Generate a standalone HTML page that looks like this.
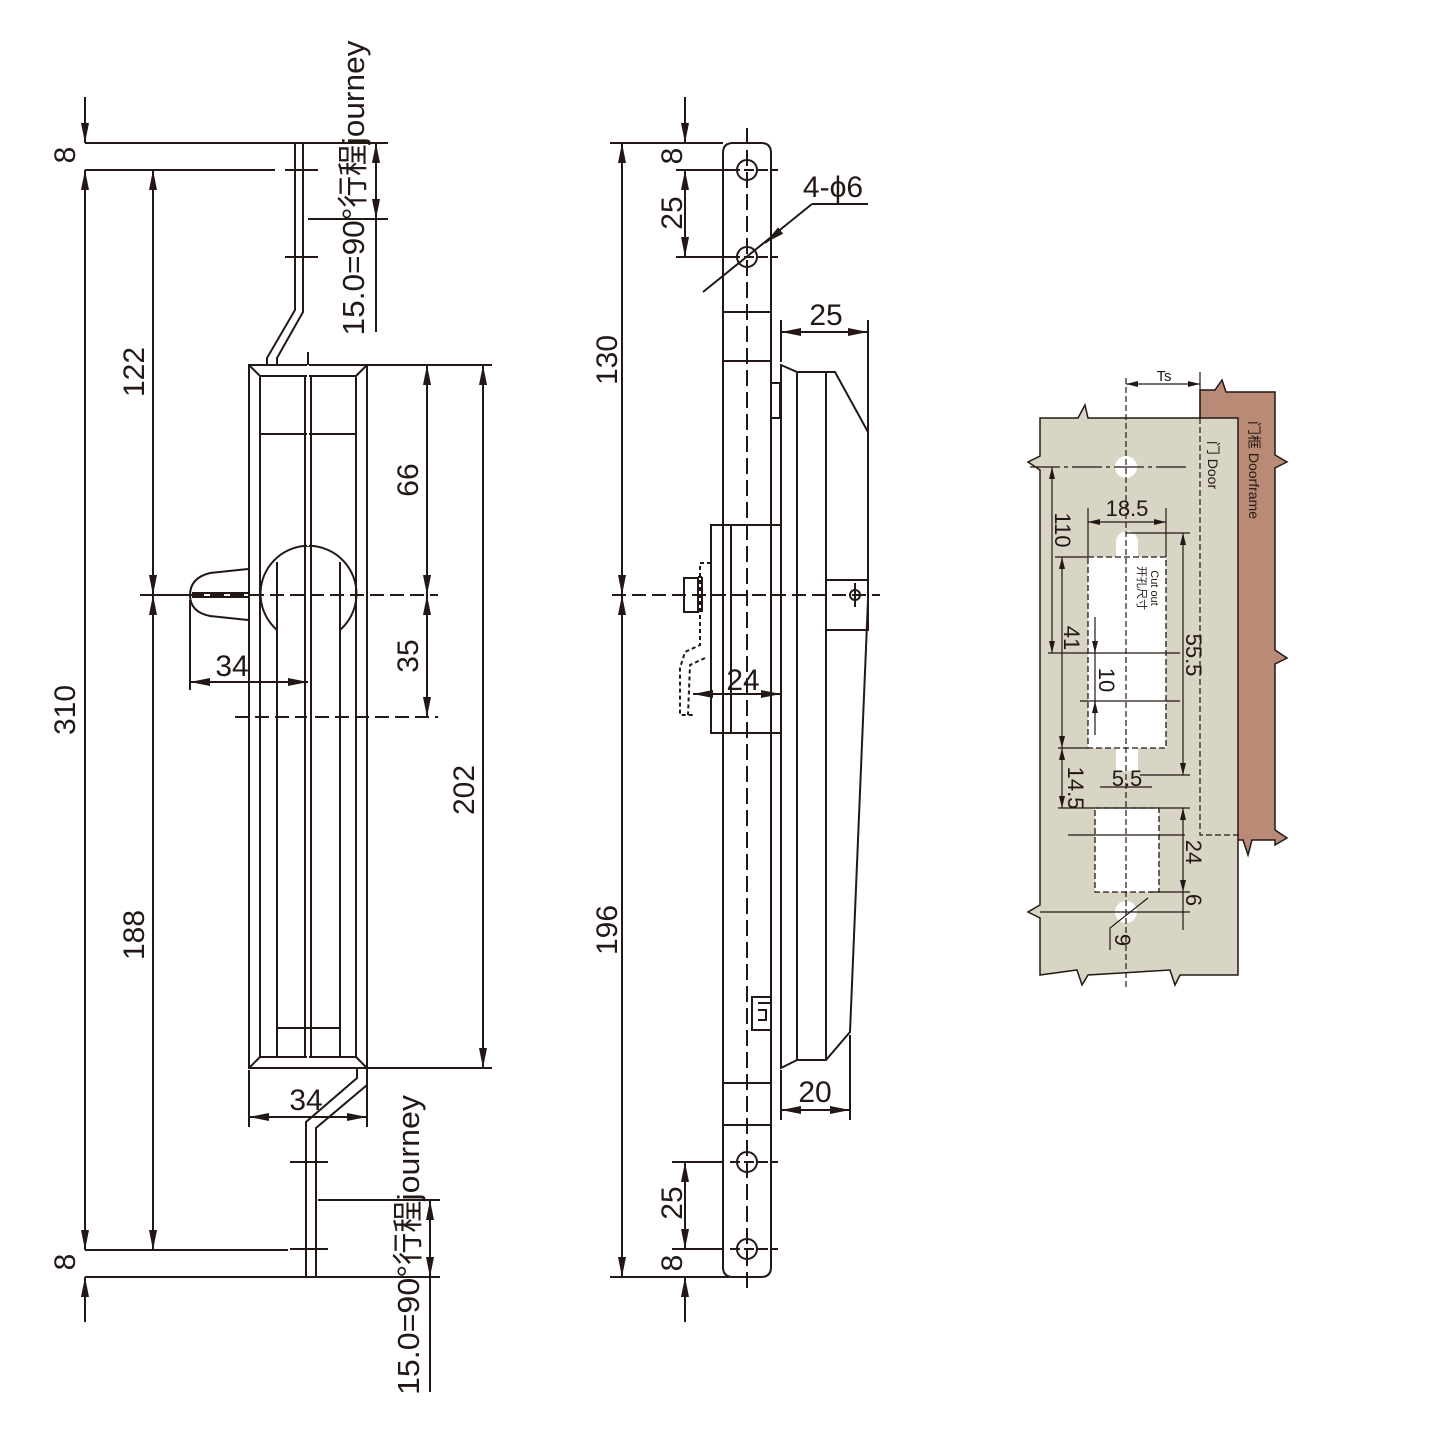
<!DOCTYPE html>
<html><head><meta charset="utf-8"><style>
html,body{margin:0;padding:0;background:#fff}
svg{display:block}
text{font-family:"Liberation Sans","Noto Sans CJK SC",sans-serif;fill:#231815}
</style></head><body>
<svg width="1440" height="1440" viewBox="0 0 1440 1440" xmlns="http://www.w3.org/2000/svg">
<defs>
<marker id="a" viewBox="0 0 20 8" refX="20" refY="4" markerWidth="20" markerHeight="8" markerUnits="userSpaceOnUse" orient="auto-start-reverse"><path d="M0,0 L20,4 L0,8 Z" fill="#231815"/></marker>
<marker id="s" viewBox="0 0 12 6" refX="12" refY="3" markerWidth="12" markerHeight="6" markerUnits="userSpaceOnUse" orient="auto-start-reverse"><path d="M0,0 L12,3 L0,6 Z" fill="#231815"/></marker>
</defs>
<g stroke="#231815" stroke-width="2" fill="none">
<line x1="85" y1="143" x2="295" y2="143"/>
<line x1="85" y1="170" x2="275" y2="170"/>
<line x1="85" y1="1250" x2="288" y2="1250"/>
<line x1="85" y1="1277" x2="440" y2="1277"/>
<line x1="140" y1="595" x2="190" y2="595"/>
<line x1="190" y1="595" x2="438" y2="595" stroke-dasharray="14,6"/>
<line x1="368" y1="365" x2="492" y2="365"/>
<line x1="368" y1="1068" x2="492" y2="1068"/>
<line x1="235" y1="717" x2="438" y2="717" stroke-dasharray="14,6"/>
<line x1="85" y1="97" x2="85" y2="143" marker-end="url(#a)"/>
<line x1="85" y1="170" x2="85" y2="1250" marker-start="url(#a)" marker-end="url(#a)"/>
<line x1="85" y1="1277" x2="85" y2="1322" marker-start="url(#a)"/>
<line x1="153" y1="170" x2="153" y2="595" marker-start="url(#a)" marker-end="url(#a)"/>
<line x1="153" y1="595" x2="153" y2="1250" marker-start="url(#a)" marker-end="url(#a)"/>
<line x1="427" y1="365" x2="427" y2="595" marker-start="url(#a)" marker-end="url(#a)"/>
<line x1="427" y1="595" x2="427" y2="717" marker-start="url(#a)" marker-end="url(#a)"/>
<line x1="483" y1="365" x2="483" y2="1068" marker-start="url(#a)" marker-end="url(#a)"/>
<rect x="249" y="365" width="118" height="703"/>
<rect x="260" y="376" width="96" height="681"/>
<line x1="249" y1="365" x2="260" y2="376"/><line x1="367" y1="365" x2="356" y2="376"/>
<line x1="249" y1="1068" x2="260" y2="1057"/><line x1="367" y1="1068" x2="356" y2="1057"/>
<line x1="260" y1="434" x2="356" y2="434"/>
<path d="M277,630 A48,48 0 1,1 340,630"/>
<line x1="277" y1="562" x2="277" y2="1057"/>
<line x1="340" y1="562" x2="340" y2="1057"/>
<line x1="277" y1="1028" x2="340" y2="1028"/>
<line x1="305" y1="376" x2="305" y2="1057"/>
<line x1="311" y1="376" x2="311" y2="1057"/>
<line x1="308" y1="352" x2="308" y2="1080" stroke="#fff" stroke-dasharray="14,6" stroke-width="2"/>
<line x1="308" y1="352" x2="308" y2="365" />
<path d="M248,569 L210,573 Q190,578 190,595 Q190,612 210,616 L248,620"/>
<line x1="192" y1="593" x2="248" y2="593"/><line x1="192" y1="597" x2="248" y2="597"/>
<line x1="190" y1="600" x2="190" y2="690"/>
<line x1="190" y1="682" x2="308" y2="682" marker-start="url(#a)" marker-end="url(#a)"/>
<line x1="249" y1="1070" x2="249" y2="1127"/><line x1="367" y1="1070" x2="367" y2="1127"/>
<line x1="249" y1="1117" x2="367" y2="1117" marker-start="url(#a)" marker-end="url(#a)"/>
<path d="M267,365 L267,358 L295,310 L295,143 L303,143 L303,312 L277,358 L277,365"/>
<line x1="285" y1="170" x2="318" y2="170"/>
<line x1="285" y1="257" x2="318" y2="257"/>
<path d="M357,1068 L357,1078 L306,1122 L306,1277 L316,1277 L316,1128 L367,1085 L367,1068"/>
<line x1="290" y1="1162" x2="328" y2="1162"/>
<line x1="290" y1="1249" x2="328" y2="1249"/>
<line x1="303" y1="143" x2="388" y2="143"/>
<line x1="308" y1="219" x2="388" y2="219"/>
<line x1="376" y1="143" x2="376" y2="219" marker-start="url(#a)" marker-end="url(#a)"/>
<line x1="376" y1="219" x2="376" y2="332"/>
<line x1="318" y1="1200" x2="440" y2="1200"/>
<line x1="430" y1="1200" x2="430" y2="1277" marker-start="url(#a)" marker-end="url(#a)"/>
<line x1="430" y1="1277" x2="430" y2="1392"/>

<path d="M733,143 L761,143 Q771,143 771,153 L771,1267 Q771,1277 761,1277 L733,1277 Q723,1277 723,1267 L723,153 Q723,143 733,143 Z"/>
<line x1="747" y1="128" x2="747" y2="1292" stroke-dasharray="16,6"/>
<circle cx="747" cy="170" r="10"/><circle cx="747" cy="257" r="10"/>
<circle cx="747" cy="1162" r="10"/><circle cx="747" cy="1249" r="10"/>
<line x1="730" y1="170" x2="778" y2="170" stroke-dasharray="10,4"/>
<line x1="730" y1="257" x2="778" y2="257" stroke-dasharray="10,4"/>
<line x1="730" y1="1162" x2="778" y2="1162" stroke-dasharray="10,4"/>
<line x1="730" y1="1249" x2="778" y2="1249" stroke-dasharray="10,4"/>
<line x1="723" y1="312" x2="771" y2="312"/><line x1="723" y1="361" x2="771" y2="361"/>
<line x1="723" y1="1083" x2="771" y2="1083"/><line x1="723" y1="1125" x2="771" y2="1125"/>
<path d="M781,365 L797,372 L835,372 L868,432 L868,600 L850,1032 L826,1060 L797,1060 L781,1068 Z"/>
<line x1="781" y1="365" x2="781" y2="1068"/>
<line x1="797" y1="372" x2="797" y2="1060"/>
<line x1="826" y1="372" x2="826" y2="1060"/>
<rect x="826" y="580" width="42" height="50"/>
<circle cx="855" cy="595" r="5"/><line x1="855" y1="583" x2="855" y2="607"/>
<rect x="771" y="383" width="9" height="35"/>
<rect x="752" y="997" width="19" height="33"/>
<path d="M758,1003 L771,1003 M758,1010 L766,1010 L766,1020 L758,1020"/>
<rect x="711" y="525" width="70" height="208"/>
<line x1="731" y1="525" x2="731" y2="733"/>
<rect x="684" y="578" width="14" height="34"/>
<line x1="698" y1="577" x2="702" y2="577"/><line x1="702" y1="577" x2="702" y2="612"/>
<path d="M711,563 L700,563 L700,645 L685,652 L680,668 L680,715 L693,715" stroke-dasharray="4,3"/>
<path d="M705,658 L690,665 L688,715" stroke-dasharray="4,3"/>
<line x1="610" y1="143" x2="723" y2="143"/>
<line x1="610" y1="1277" x2="730" y2="1277"/>
<line x1="612" y1="595" x2="880" y2="595" stroke-dasharray="14,6"/>
<line x1="622" y1="143" x2="622" y2="595" marker-start="url(#a)" marker-end="url(#a)"/>
<line x1="622" y1="595" x2="622" y2="1277" marker-start="url(#a)" marker-end="url(#a)"/>
<line x1="676" y1="170" x2="730" y2="170"/><line x1="676" y1="257" x2="730" y2="257"/>
<line x1="685" y1="97" x2="685" y2="143" marker-end="url(#a)"/>
<line x1="685" y1="170" x2="685" y2="257" marker-start="url(#a)" marker-end="url(#a)"/>
<line x1="672" y1="1162" x2="723" y2="1162"/><line x1="672" y1="1249" x2="723" y2="1249"/>
<line x1="685" y1="1162" x2="685" y2="1249" marker-start="url(#a)" marker-end="url(#a)"/>
<line x1="685" y1="1277" x2="685" y2="1322" marker-start="url(#a)"/>
<line x1="703" y1="292" x2="812" y2="204"/>
<line x1="780" y1="231" x2="765" y2="243" marker-end="url(#a)"/>
<line x1="812" y1="204" x2="868" y2="204"/>
<line x1="781" y1="320" x2="781" y2="362"/><line x1="868" y1="320" x2="868" y2="432"/>
<line x1="781" y1="332" x2="868" y2="332" marker-start="url(#a)" marker-end="url(#a)"/>
<line x1="693" y1="694" x2="781" y2="694" marker-start="url(#a)" marker-end="url(#a)"/>
<line x1="781" y1="1070" x2="781" y2="1120"/><line x1="850" y1="1035" x2="850" y2="1120"/>
<line x1="781" y1="1110" x2="850" y2="1110" marker-start="url(#a)" marker-end="url(#a)"/>
</g>

<g font-size="30" text-anchor="middle">
<text transform="translate(75,155) rotate(-90)">8</text>
<text transform="translate(75,710) rotate(-90)">310</text>
<text transform="translate(75,1262) rotate(-90)">8</text>
<text transform="translate(144,372) rotate(-90)">122</text>
<text transform="translate(144,935) rotate(-90)">188</text>
<text transform="translate(418,480) rotate(-90)">66</text>
<text transform="translate(418,656) rotate(-90)">35</text>
<text transform="translate(474,790) rotate(-90)">202</text>
<text x="232" y="676">34</text>
<text x="306" y="1110">34</text>
<text transform="translate(364,188) rotate(-90)" font-size="31" textLength="295" lengthAdjust="spacingAndGlyphs">15.0=90°行程journey</text>
<text transform="translate(419,1245) rotate(-90)" font-size="31" textLength="300" lengthAdjust="spacingAndGlyphs">15.0=90°行程journey</text>
<text transform="translate(617,360) rotate(-90)">130</text>
<text transform="translate(617,930) rotate(-90)">196</text>
<text transform="translate(682,156) rotate(-90)">8</text>
<text transform="translate(682,213) rotate(-90)">25</text>
<text transform="translate(682,1203) rotate(-90)">25</text>
<text transform="translate(682,1263) rotate(-90)">8</text>
<text x="833" y="197">4-ϕ6</text>
<text x="826" y="325">25</text>
<text x="743" y="690">24</text>
<text x="815" y="1102">20</text>
</g>

<path d="M1200,390 L1215,390 L1222,380 L1226,392 L1275,392 L1275,455 L1287,462 L1275,468 L1275,650 L1287,658 L1275,664 L1275,830 L1287,838 L1275,845 L1275,840 L1252,840 L1248,855 L1243,840 L1200,840 Z" fill="#b98b77" stroke="#231815" stroke-width="1.5"/>
<path d="M1040,418 L1078,418 L1085,405 L1088,418 L1238,418 L1238,975 L1180,975 L1175,985 L1170,970 L1088,975 L1082,985 L1077,970 L1040,975 L1040,918 L1028,912 L1040,905 L1040,470 L1028,462 L1040,456 Z" fill="#d8d5c4" stroke="#231815" stroke-width="1.5"/>
<g fill="#fff">
<path d="M1116,557 L1116,542 A11,11 0 0,1 1138,542 L1138,557 Z"/>
<rect x="1116" y="745" width="22" height="26"/>
<circle cx="1126" cy="467" r="11"/>
<circle cx="1126" cy="912" r="11"/>
</g>
<g fill="#fff" stroke="#231815" stroke-width="1.3" stroke-dasharray="6,3">
<rect x="1088" y="557" width="78" height="191"/>
<rect x="1095" y="808" width="64" height="84"/>
</g>
<g stroke="#231815" stroke-width="1.2" fill="none">
<line x1="1126" y1="378" x2="1126" y2="988" stroke-dasharray="6,3"/>
<path d="M1200,418 L1200,835 L1240,835" stroke-dasharray="6,3"/>
<line x1="1200" y1="372" x2="1200" y2="418"/>
<line x1="1126" y1="384" x2="1200" y2="384" marker-start="url(#s)" marker-end="url(#s)"/>
<line x1="1030" y1="467" x2="1190" y2="467" stroke-dasharray="30,4,4,4"/>
<line x1="1048" y1="653" x2="1180" y2="653"/>
<line x1="1080" y1="701" x2="1180" y2="701"/>
<line x1="1052" y1="467" x2="1052" y2="653" marker-start="url(#s)" marker-end="url(#s)"/>
<line x1="1055" y1="557" x2="1088" y2="557"/>
<line x1="1062" y1="557" x2="1062" y2="748" marker-start="url(#s)" marker-end="url(#s)"/>
<line x1="1058" y1="748" x2="1088" y2="748"/>
<line x1="1095" y1="617" x2="1095" y2="735"/>
<line x1="1095" y1="640" x2="1095" y2="653" marker-end="url(#s)"/>
<line x1="1095" y1="715" x2="1095" y2="701" marker-end="url(#s)"/>
<line x1="1088" y1="508" x2="1088" y2="557"/><line x1="1166" y1="508" x2="1166" y2="557"/>
<line x1="1088" y1="522" x2="1166" y2="522" marker-start="url(#s)" marker-end="url(#s)"/>
<line x1="1126" y1="533" x2="1190" y2="533"/>
<line x1="1140" y1="775" x2="1190" y2="775"/>
<line x1="1183" y1="533" x2="1183" y2="775" marker-start="url(#s)" marker-end="url(#s)"/>
<line x1="1062" y1="748" x2="1062" y2="808" marker-start="url(#s)" marker-end="url(#s)"/>
<line x1="1058" y1="808" x2="1190" y2="808"/>
<line x1="1100" y1="787" x2="1152" y2="787"/>
<line x1="1068" y1="835" x2="1185" y2="835"/>
<line x1="1040" y1="912" x2="1190" y2="912"/>
<line x1="1150" y1="892" x2="1190" y2="892"/>
<line x1="1183" y1="808" x2="1183" y2="892" marker-start="url(#s)" marker-end="url(#s)"/>
<line x1="1183" y1="892" x2="1183" y2="930"/>
<path d="M1148,898 L1110,928 L1110,950"/>
</g>
<g font-size="22" text-anchor="middle">
<text x="1164" y="381" font-size="15">Ts</text>
<text x="1127" y="516">18.5</text>
<text transform="translate(1055,530) rotate(90)">110</text>
<text transform="translate(1064,638) rotate(90)">41</text>
<text transform="translate(1099,680) rotate(90)">10</text>
<text transform="translate(1186,655) rotate(90)">55.5</text>
<text transform="translate(1068,788) rotate(90)">14.5</text>
<text x="1127" y="786">5.5</text>
<text transform="translate(1186,852) rotate(90)">24</text>
<text transform="translate(1186,900) rotate(90)">6</text>
<text transform="translate(1115,940) rotate(90)">9</text>
<text transform="translate(1151,588) rotate(90)" font-size="11">Cut out</text>
<text transform="translate(1138,588) rotate(90)" font-size="11">开孔尺寸</text>
<text transform="translate(1208,465) rotate(90)" font-size="14">门 Door</text>
<text transform="translate(1249,470) rotate(90)" font-size="14">门框 Doorframe</text>
</g>
</svg>
</body></html>
